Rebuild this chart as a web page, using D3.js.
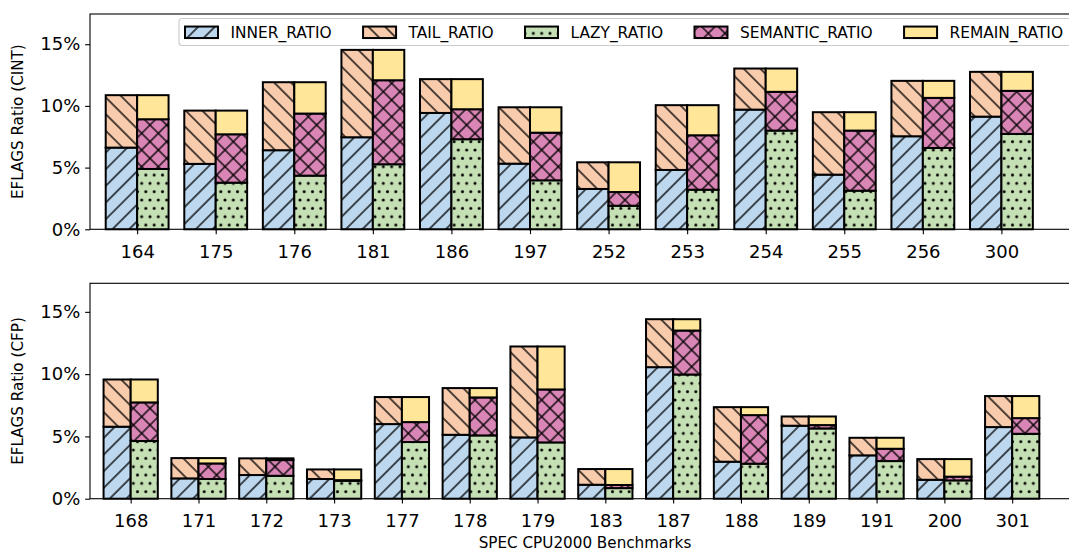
<!DOCTYPE html>
<html>
<head>
<meta charset="utf-8">
<script src="https://cdn.jsdelivr.net/npm/d3@7"></script>
<style>
  html, body { margin: 0; padding: 0; background: #fff; }
  svg { display: block; font-family: "DejaVu Sans", sans-serif; }
</style>
</head>
<body>
<svg id="chart" width="1069" height="552"></svg>
<script>
// ---- CINT benchmarks (percent of instructions) ----
const cintBench    = ["164", "175", "176", "181", "186", "197", "252", "253", "254", "255", "256", "300"];
const cintInner    = [6.62, 5.30, 6.41, 7.46, 9.43, 5.32, 3.27, 4.81, 9.70, 4.43, 7.54, 9.13];
const cintTail     = [4.25, 4.32, 5.51, 7.08, 2.74, 4.57, 2.16, 5.25, 3.33, 5.06, 4.49, 3.63];
const cintLazy     = [4.89, 3.78, 4.35, 5.27, 7.30, 3.97, 1.91, 3.21, 8.00, 3.13, 6.59, 7.73];
const cintSemantic = [4.03, 3.92, 5.03, 6.81, 2.43, 3.86, 1.11, 4.41, 3.14, 4.87, 4.06, 3.49];
const cintRemain   = [1.95, 1.92, 2.54, 2.46, 2.44, 2.06, 2.41, 2.44, 1.89, 1.49, 1.38, 1.54];

// ---- CFP benchmarks ----
const cfpBench    = ["168", "171", "172", "173", "177", "178", "179", "183", "187", "188", "189", "191", "200", "301"];
const cfpInner    = [5.78, 1.63, 1.90, 1.58, 5.99, 5.13, 4.92, 1.12, 10.56, 2.97, 5.86, 3.48, 1.52, 5.75];
const cfpTail     = [3.79, 1.63, 1.34, 0.77, 2.17, 3.75, 7.30, 1.26, 3.85, 4.38, 0.74, 1.41, 1.66, 2.49];
const cfpLazy     = [4.63, 1.58, 1.84, 1.44, 4.55, 5.08, 4.52, 0.85, 9.97, 2.81, 5.64, 3.02, 1.47, 5.21];
const cfpSemantic = [3.10, 1.25, 1.26, 0.05, 1.60, 3.05, 4.25, 0.25, 3.53, 3.90, 0.27, 0.99, 0.30, 1.26];
const cfpRemain   = [1.84, 0.43, 0.14, 0.86, 2.01, 0.75, 3.45, 1.28, 0.91, 0.64, 0.69, 0.88, 1.41, 1.77];

const seriesNames = ["INNER_RATIO", "TAIL_RATIO", "LAZY_RATIO", "SEMANTIC_RATIO", "REMAIN_RATIO"];
const yTickValues = [0, 5, 10, 15];

// ---- styling ----
const fills = {
  INNER_RATIO: "#BDD7EE",
  TAIL_RATIO: "#F8CBAD",
  LAZY_RATIO: "#C5E0B4",
  SEMANTIC_RATIO: "#D985B5",
  REMAIN_RATIO: "#FFE699"
};
const hatches = {
  INNER_RATIO: ["hatchNE"],
  TAIL_RATIO: ["hatchNW"],
  LAZY_RATIO: ["hatchDots"],
  SEMANTIC_RATIO: ["hatchNE", "hatchNW"],
  REMAIN_RATIO: []
};
const EDGE_W = 2.0;
const HATCH_W = 1.35;
const TICK_FONT = 18;
const LABEL_FONT = 15.2;
const LEGEND_FONT = 15.4;

const svg = d3.select("#chart");
const defs = svg.append("defs");

// diagonal line hatch (rotated vertical lines)
function linePattern(id, angle, spacing) {
  const p = defs.append("pattern")
    .attr("id", id)
    .attr("patternUnits", "userSpaceOnUse")
    .attr("width", spacing)
    .attr("height", 20)
    .attr("patternTransform", `rotate(${angle})`);
  p.append("line")
    .attr("x1", spacing / 2).attr("x2", spacing / 2)
    .attr("y1", -2).attr("y2", 22)
    .attr("stroke", "#000").attr("stroke-width", HATCH_W);
}
const diagSpacing = (100 / 6) / Math.SQRT2;
linePattern("hatchNE", 45, diagSpacing);
linePattern("hatchNW", -45, diagSpacing);

// staggered dot hatch
(function dotPattern() {
  const s = 100 / 12;
  const p = defs.append("pattern")
    .attr("id", "hatchDots")
    .attr("patternUnits", "userSpaceOnUse")
    .attr("width", s).attr("height", 2 * s);
  const pts = [[0, 0], [s, 0], [0, 2 * s], [s, 2 * s], [s / 2, s]];
  pts.forEach(([cx, cy]) => {
    p.append("circle").attr("cx", cx).attr("cy", cy).attr("r", 1.5).attr("fill", "#000");
  });
})();

// draws one filled/hatched/outlined rectangle
function drawPatch(g, x, y, w, h, name) {
  g.append("rect").attr("x", x).attr("y", y).attr("width", w).attr("height", h)
    .attr("fill", fills[name]);
  hatches[name].forEach(pid => {
    g.append("rect").attr("x", x).attr("y", y).attr("width", w).attr("height", h)
      .attr("fill", `url(#${pid})`);
  });
  g.append("rect").attr("x", x).attr("y", y).attr("width", w).attr("height", h)
    .attr("fill", "none").attr("stroke", "#000").attr("stroke-width", EDGE_W);
}

const AX_LEFT = 90, AX_RIGHT = 1080;

function drawPanel(cfg) {
  const { bench, inner, tail, lazy, semantic, remain, top, bottom, yTitle } = cfg;
  const n = bench.length;
  const g = svg.append("g");

  const x = d3.scaleLinear().domain([-0.6, n]).range([AX_LEFT, AX_RIGHT]);
  const totals = bench.map((_, i) => inner[i] + tail[i]);
  const y = d3.scaleLinear().domain([0, d3.max(totals) * 1.2]).range([bottom, top]);

  const rows = bench.map((b, i) => ({
    idx: i,
    INNER_RATIO: inner[i], TAIL_RATIO: tail[i],
    LAZY_RATIO: lazy[i], SEMANTIC_RATIO: semantic[i], REMAIN_RATIO: remain[i]
  }));

  const leftStack = d3.stack().keys(["INNER_RATIO", "TAIL_RATIO"])(rows);
  const rightStack = d3.stack().keys(["LAZY_RATIO", "SEMANTIC_RATIO", "REMAIN_RATIO"])(rows);

  const bars = g.append("g");
  const halfW = 0.4;
  leftStack.forEach(layer => {
    layer.forEach(d => {
      const i = d.data.idx;
      const x0 = x(i - halfW), x1 = x(i);
      drawPatch(bars, x0, y(d[1]), x1 - x0, y(d[0]) - y(d[1]), layer.key);
    });
  });
  rightStack.forEach(layer => {
    layer.forEach(d => {
      const i = d.data.idx;
      const x0 = x(i), x1 = x(i + halfW);
      drawPatch(bars, x0, y(d[1]), x1 - x0, y(d[0]) - y(d[1]), layer.key);
    });
  });

  // axes
  const tickLen = 4.86;
  const yAxis = g.append("g")
    .attr("transform", `translate(${AX_LEFT},0)`)
    .call(d3.axisLeft(y).tickValues(yTickValues).tickFormat(d => d + "%")
      .tickSize(tickLen).tickPadding(4.86));
  yAxis.select(".domain").remove();
  yAxis.selectAll("text").attr("font-size", TICK_FONT).attr("font-family", "DejaVu Sans").attr("fill", "#000");
  yAxis.selectAll("line").attr("stroke-width", 1.1);

  const xAxis = g.append("g")
    .attr("transform", `translate(0,${bottom})`)
    .call(d3.axisBottom(x).tickValues(d3.range(n)).tickFormat(i => bench[i])
      .tickSize(tickLen).tickPadding(10.9));
  xAxis.select(".domain").remove();
  xAxis.selectAll("text").attr("font-size", TICK_FONT).attr("font-family", "DejaVu Sans").attr("fill", "#000");
  xAxis.selectAll("line").attr("stroke-width", 1.1);

  // spines
  g.append("rect")
    .attr("x", AX_LEFT).attr("y", top)
    .attr("width", AX_RIGHT - AX_LEFT).attr("height", bottom - top)
    .attr("fill", "none").attr("stroke", "#000").attr("stroke-width", 1.1);

  // y title
  g.append("text")
    .attr("transform", `translate(22.5,${(top + bottom) / 2}) rotate(-90)`)
    .attr("text-anchor", "middle")
    .attr("font-size", LABEL_FONT)
    .attr("fill", "#000")
    .text(yTitle);

  return { x, y };
}

drawPanel({
  bench: cintBench, inner: cintInner, tail: cintTail, lazy: cintLazy,
  semantic: cintSemantic, remain: cintRemain,
  top: 14, bottom: 229.3, yTitle: "EFLAGS Ratio (CINT)"
});
drawPanel({
  bench: cfpBench, inner: cfpInner, tail: cfpTail, lazy: cfpLazy,
  semantic: cfpSemantic, remain: cfpRemain,
  top: 283.3, bottom: 498.7, yTitle: "EFLAGS Ratio (CFP)"
});

// x title
svg.append("text")
  .attr("x", (AX_LEFT + AX_RIGHT) / 2).attr("y", 548)
  .attr("text-anchor", "middle")
  .attr("font-size", LABEL_FONT)
  .attr("fill", "#000")
  .text("SPEC CPU2000 Benchmarks");

// legend (single row across the top panel)
(function legend() {
  const lg = svg.append("g");
  const frame = lg.append("rect");
  const handleW = 33, handleH = 11.5, textPad = 12.5;
  const startX = 185, endX = 1063;
  const cy = 32.3;

  // measure labels first so the columns fill the row evenly
  const probe = lg.append("g");
  const widths = seriesNames.map(name => {
    const t = probe.append("text").attr("font-size", LEGEND_FONT).text(name);
    const w = t.node().getComputedTextLength();
    return w;
  });
  probe.remove();
  const used = d3.sum(widths) + seriesNames.length * (handleW + textPad);
  const colSpace = (endX - startX - used) / (seriesNames.length - 1);

  let cx = startX;
  const items = lg.append("g");
  seriesNames.forEach((name, k) => {
    drawPatch(items, cx, cy - handleH / 2, handleW, handleH, name);
    cx += handleW + textPad;
    items.append("text")
      .attr("x", cx).attr("y", cy)
      .attr("dy", "0.36em")
      .attr("font-size", LEGEND_FONT)
      .attr("fill", "#000")
      .text(name);
    cx += widths[k] + colSpace;
  });
  const fx = 179, fy = 18.5;
  frame.attr("x", fx).attr("y", fy)
    .attr("width", 1072 - fx).attr("height", 45.5 - fy)
    .attr("rx", 3).attr("ry", 3)
    .attr("fill", "#fff").attr("fill-opacity", 0.8)
    .attr("stroke", "#cccccc").attr("stroke-width", 1.2);
})();
</script>
</body>
</html>
